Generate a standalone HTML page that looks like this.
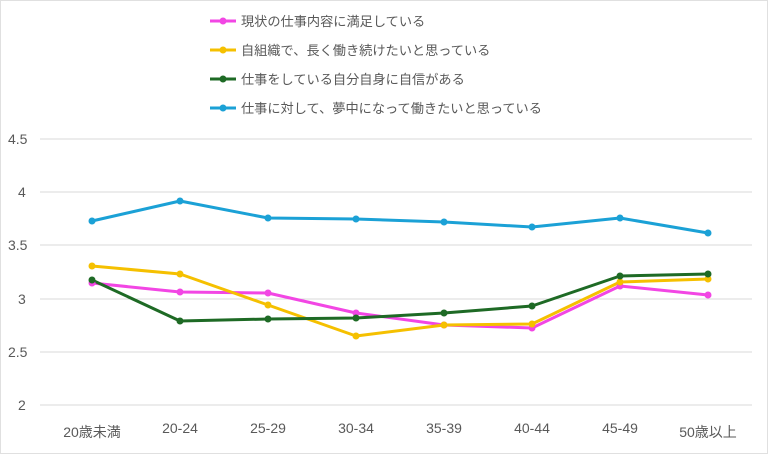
<!DOCTYPE html>
<html><head><meta charset="utf-8"><style>
html,body{margin:0;padding:0;background:#fff;}
svg{display:block;font-family:"Liberation Sans","Noto Sans CJK JP",sans-serif;}
</style></head><body>
<svg width="768" height="454" viewBox="0 0 768 454" xmlns="http://www.w3.org/2000/svg">
<rect x="0.5" y="0.5" width="767" height="453" fill="#fff" stroke="#e0e0e0"/>
<g stroke="#d9d9d9" stroke-width="1">
<line x1="40" x2="752" y1="139" y2="139"/>
<line x1="40" x2="752" y1="192" y2="192"/>
<line x1="40" x2="752" y1="245" y2="245"/>
<line x1="40" x2="752" y1="299" y2="299"/>
<line x1="40" x2="752" y1="352" y2="352"/>
<line x1="40" x2="752" y1="405" y2="405"/>
</g>
<g font-size="14" fill="#595959">
<text x="8" y="144">4.5</text>
<text x="18" y="197">4</text>
<text x="8" y="250">3.5</text>
<text x="18" y="304">3</text>
<text x="8" y="357">2.5</text>
<text x="18" y="410">2</text>
</g>
<g font-size="14" fill="#595959" text-anchor="middle">
<text x="92" y="437">20歳未満</text>
<text x="180" y="433">20-24</text>
<text x="268" y="433">25-29</text>
<text x="356" y="433">30-34</text>
<text x="444" y="433">35-39</text>
<text x="532" y="433">40-44</text>
<text x="620" y="433">45-49</text>
<text x="708" y="437">50歳以上</text>
</g>
<g fill="none" stroke-width="3" stroke-linejoin="round">
<polyline stroke="#1ba1d6" points="92,221 180,201 268,218 356,219 444,222 532,227 620,218 708,233"/>
<polyline stroke="#f246e4" points="92,283 180,292 268,293 356,313 444,325 532,328 620,286 708,295"/>
<polyline stroke="#f5c000" points="92,266 180,274 268,305 356,336 444,325 532,324 620,282 708,279"/>
<polyline stroke="#1e6a25" points="92,280 180,321 268,319 356,318 444,313 532,306 620,276 708,274"/>
</g>
<g fill="#1ba1d6"><circle cx="92" cy="221" r="3.5"/><circle cx="180" cy="201" r="3.5"/><circle cx="268" cy="218" r="3.5"/><circle cx="356" cy="219" r="3.5"/><circle cx="444" cy="222" r="3.5"/><circle cx="532" cy="227" r="3.5"/><circle cx="620" cy="218" r="3.5"/><circle cx="708" cy="233" r="3.5"/></g>
<g fill="#f246e4"><circle cx="92" cy="283" r="3.5"/><circle cx="180" cy="292" r="3.5"/><circle cx="268" cy="293" r="3.5"/><circle cx="356" cy="313" r="3.5"/><circle cx="444" cy="325" r="3.5"/><circle cx="532" cy="328" r="3.5"/><circle cx="620" cy="286" r="3.5"/><circle cx="708" cy="295" r="3.5"/></g>
<g fill="#f5c000"><circle cx="92" cy="266" r="3.5"/><circle cx="180" cy="274" r="3.5"/><circle cx="268" cy="305" r="3.5"/><circle cx="356" cy="336" r="3.5"/><circle cx="444" cy="325" r="3.5"/><circle cx="532" cy="324" r="3.5"/><circle cx="620" cy="282" r="3.5"/><circle cx="708" cy="279" r="3.5"/></g>
<g fill="#1e6a25"><circle cx="92" cy="280" r="3.5"/><circle cx="180" cy="321" r="3.5"/><circle cx="268" cy="319" r="3.5"/><circle cx="356" cy="318" r="3.5"/><circle cx="444" cy="313" r="3.5"/><circle cx="532" cy="306" r="3.5"/><circle cx="620" cy="276" r="3.5"/><circle cx="708" cy="274" r="3.5"/></g>
<g stroke-width="3">
<line x1="210" x2="236" y1="21" y2="21" stroke="#f246e4"/>
<line x1="210" x2="236" y1="50" y2="50" stroke="#f5c000"/>
<line x1="210" x2="236" y1="79" y2="79" stroke="#1e6a25"/>
<line x1="210" x2="236" y1="108" y2="108" stroke="#1ba1d6"/>
</g>
<circle cx="223" cy="21" r="3.5" fill="#f246e4"/>
<circle cx="223" cy="50" r="3.5" fill="#f5c000"/>
<circle cx="223" cy="79" r="3.5" fill="#1e6a25"/>
<circle cx="223" cy="108" r="3.5" fill="#1ba1d6"/>
<g font-size="13.2" fill="#595959">
<text x="241" y="26">現状の仕事内容に満足している</text>
<text x="241" y="55">自組織で、長く働き続けたいと思っている</text>
<text x="241" y="84">仕事をしている自分自身に自信がある</text>
<text x="241" y="113">仕事に対して、夢中になって働きたいと思っている</text>
</g>
</svg>
</body></html>
